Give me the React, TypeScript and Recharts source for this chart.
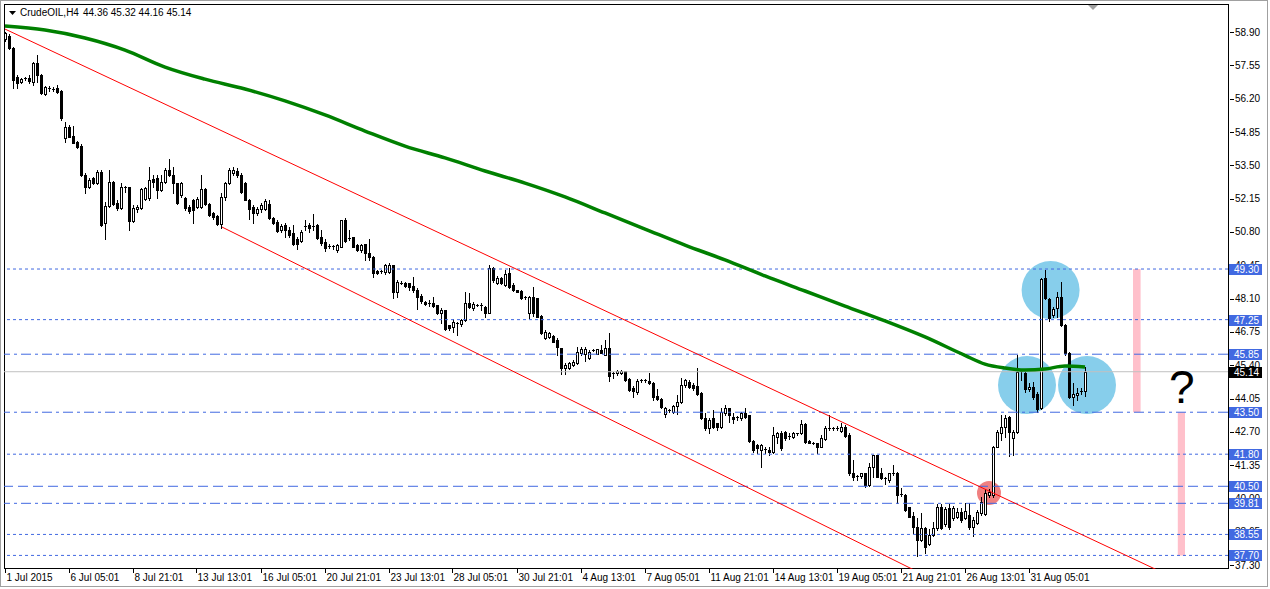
import {
  ComposedChart,
  Bar,
  Line,
  XAxis,
  YAxis,
  ReferenceLine,
  ReferenceDot,
  ReferenceArea,
} from "recharts";

// CrudeOIL H4 bars, one row per bar: open, high, low, close
const jul01 = [
  [58.6, 58.91, 58.55, 58.85], [58.74, 58.8, 58.2, 58.24], [58.24, 58.28, 56.62, 56.96], [57.09, 57.16, 56.62, 56.82],
  [56.86, 57.05, 56.82, 56.99], [57.0, 57.09, 56.96, 57.05], [57.02, 57.16, 56.82, 56.92], [56.89, 57.7, 56.75, 57.63],
  [57.66, 57.95, 56.89, 57.16], [57.16, 57.18, 56.39, 56.42], [56.4, 56.72, 56.36, 56.68], [56.62, 56.71, 56.52, 56.64],
  [56.6, 56.66, 56.52, 56.58], [56.62, 56.75, 56.42, 56.48], [56.52, 56.55, 55.35, 55.4], [54.59, 55.27, 54.46, 55.07],
];
const jul06 = [
  [55.07, 55.13, 54.63, 54.66], [54.69, 55.09, 54.4, 54.42], [54.46, 54.48, 54.22, 54.26], [54.28, 54.35, 53.08, 53.11],
  [53.11, 53.18, 52.37, 52.64], [52.64, 53.0, 52.6, 52.91], [53.0, 53.04, 52.73, 52.77], [52.77, 53.31, 52.73, 53.24],
  [53.24, 53.31, 51.05, 51.08], [51.15, 52.03, 50.5, 51.85], [51.85, 53.31, 51.83, 52.84], [52.84, 52.88, 51.89, 51.93],
  [51.96, 52.1, 51.69, 51.76], [51.76, 52.8, 51.72, 52.64], [52.62, 52.66, 52.43, 52.6], [52.61, 52.64, 50.88, 51.26],
];
const jul08 = [
  [51.26, 51.89, 51.22, 51.76], [51.72, 51.89, 51.62, 51.83], [51.76, 52.57, 51.72, 52.53], [52.14, 52.64, 52.1, 52.57],
  [52.16, 53.45, 52.1, 52.91], [52.93, 53.11, 52.64, 52.84], [52.97, 53.11, 52.16, 52.5], [52.5, 53.11, 52.47, 52.84],
  [52.84, 53.38, 52.8, 53.31], [53.31, 53.74, 53.07, 53.11], [53.11, 53.45, 52.37, 52.77], [52.77, 52.8, 51.93, 51.96],
  [52.3, 52.84, 52.23, 52.8], [52.16, 52.23, 51.69, 51.76], [51.8, 51.89, 51.56, 51.66], [52.1, 52.12, 51.18, 51.69],
];
const jul13 = [
  [51.83, 52.23, 51.76, 52.12], [51.83, 53.11, 51.76, 52.53], [52.53, 52.57, 51.89, 51.93], [51.93, 51.96, 51.45, 51.49],
  [51.56, 51.6, 51.31, 51.42], [51.45, 51.49, 51.08, 51.12], [51.12, 52.39, 50.95, 52.2], [52.2, 52.84, 52.1, 52.77],
  [52.77, 53.38, 52.74, 53.31], [53.18, 53.45, 53.11, 53.31], [53.28, 53.38, 53.04, 53.11], [53.11, 53.18, 52.39, 52.43],
  [52.8, 52.84, 52.08, 52.1], [52.1, 52.12, 51.31, 51.72], [51.8, 51.89, 51.18, 51.56], [51.56, 51.83, 51.49, 51.72],
];
const jul16 = [
  [51.72, 51.96, 51.62, 51.89], [51.74, 52.12, 51.69, 52.05], [51.93, 52.1, 51.31, 51.35], [51.35, 51.42, 51.12, 51.18],
  [51.22, 51.28, 50.81, 50.85], [50.88, 51.12, 50.81, 51.04], [51.08, 51.15, 50.61, 50.88], [50.88, 50.99, 50.61, 50.68],
  [50.74, 51.08, 50.27, 50.31], [50.5, 50.61, 50.1, 50.31], [50.45, 50.88, 50.41, 50.81], [51.02, 51.28, 50.88, 51.05],
  [51.08, 51.18, 50.81, 50.95], [51.02, 51.53, 50.88, 51.04], [51.1, 51.12, 50.5, 50.54], [50.58, 50.9, 50.28, 50.34],
];
const jul20 = [
  [50.41, 50.5, 50.05, 50.14], [50.2, 50.3, 50.15, 50.22], [50.22, 50.28, 50.12, 50.2], [50.07, 50.32, 49.98, 50.28],
  [50.21, 51.3, 50.18, 51.28], [51.3, 51.35, 50.4, 50.45], [50.5, 50.88, 50.48, 50.54], [50.58, 50.6, 50.18, 50.21],
  [50.28, 50.3, 50.02, 50.07], [50.07, 50.32, 50.0, 50.28], [50.3, 50.3, 49.67, 49.93], [49.93, 50.5, 49.67, 49.8],
  [49.8, 49.83, 48.99, 49.12], [49.23, 49.25, 49.1, 49.15], [49.2, 49.28, 49.15, 49.23], [49.19, 49.52, 49.1, 49.46],
];
const jul23 = [
  [49.19, 49.55, 49.15, 49.46], [49.46, 49.48, 48.11, 48.38], [48.38, 48.85, 48.18, 48.79], [48.72, 48.8, 48.68, 48.75],
  [48.75, 48.78, 48.58, 48.61], [48.72, 48.75, 48.45, 48.56], [48.61, 48.99, 48.38, 48.45], [48.45, 48.52, 47.67, 48.18],
  [48.2, 48.28, 47.91, 48.02], [47.98, 48.0, 47.85, 47.9], [47.9, 48.04, 47.8, 47.93], [47.94, 48.18, 47.77, 47.8],
  [47.84, 47.85, 47.47, 47.5], [47.5, 47.71, 47.13, 47.64], [47.64, 47.66, 46.83, 46.86], [47.03, 47.03, 46.83, 46.9],
];
const jul28 = [
  [46.94, 47.26, 46.76, 47.17], [47.1, 47.17, 46.63, 47.1], [47.06, 47.28, 47.0, 47.23], [47.23, 48.38, 47.2, 47.91],
  [47.94, 48.34, 47.74, 47.77], [47.71, 47.98, 47.64, 47.88], [47.84, 47.9, 47.8, 47.86], [47.86, 47.91, 47.64, 47.84],
  [47.77, 47.8, 47.37, 47.53], [47.53, 49.46, 47.5, 49.33], [49.33, 49.4, 48.79, 48.85], [48.75, 49.0, 48.7, 48.95],
  [48.95, 48.98, 48.7, 48.72], [48.65, 49.26, 48.6, 49.1], [49.12, 49.33, 48.52, 48.58], [48.65, 48.72, 48.42, 48.45],
];
const jul30 = [
  [48.45, 48.45, 48.35, 48.38], [48.42, 48.45, 48.07, 48.11], [48.18, 48.2, 48.08, 48.11], [47.5, 48.2, 47.3, 48.18],
  [48.18, 48.56, 47.4, 47.5], [48.11, 48.12, 47.35, 47.37], [47.4, 47.42, 46.65, 46.69], [46.49, 46.83, 46.45, 46.76],
  [46.56, 46.76, 46.52, 46.72], [46.6, 46.63, 46.33, 46.36], [46.42, 46.49, 45.82, 46.15], [46.09, 46.1, 45.05, 45.28],
  [45.28, 45.48, 45.05, 45.41], [45.3, 45.52, 45.25, 45.48], [45.41, 45.6, 45.38, 45.55], [45.48, 46.15, 45.45, 45.95],
];
const aug04 = [
  [45.88, 46.15, 45.82, 46.05], [45.84, 46.15, 45.59, 46.05], [45.68, 46.02, 45.66, 45.95], [46.0, 46.06, 45.98, 46.02],
  [45.86, 46.08, 45.84, 46.05], [46.02, 46.22, 45.88, 45.9], [45.82, 46.43, 45.8, 46.09], [46.09, 46.7, 44.78, 44.97],
  [45.05, 45.14, 44.88, 45.07], [45.07, 45.2, 45.0, 45.17], [45.1, 45.2, 45.05, 45.17], [45.15, 45.18, 44.78, 44.81],
  [44.85, 44.87, 44.37, 44.4], [44.47, 44.56, 44.13, 44.37], [44.33, 44.83, 44.24, 44.78], [44.78, 44.85, 44.74, 44.8],
];
const aug07 = [
  [44.8, 44.85, 44.74, 44.78], [44.78, 45.1, 44.64, 44.67], [44.7, 44.71, 43.99, 44.13], [44.16, 44.43, 43.99, 44.02],
  [44.02, 44.06, 43.66, 43.7], [43.43, 43.7, 43.29, 43.66], [43.56, 43.62, 43.5, 43.58], [43.52, 43.79, 43.48, 43.75],
  [43.75, 44.2, 43.43, 43.93], [43.93, 44.87, 43.89, 44.6], [44.6, 44.83, 44.53, 44.81], [44.74, 44.81, 44.47, 44.51],
  [44.6, 44.67, 44.4, 44.47], [44.56, 45.28, 44.2, 44.24], [44.29, 44.3, 43.21, 43.25], [43.25, 43.45, 42.78, 42.85],
];
const aug11 = [
  [42.85, 43.25, 42.64, 43.18], [43.25, 43.59, 42.85, 42.89], [43.05, 43.08, 42.78, 42.92], [42.92, 43.66, 42.85, 43.52],
  [43.48, 43.79, 43.39, 43.66], [43.66, 43.68, 43.12, 43.39], [43.32, 43.45, 43.08, 43.21], [43.25, 43.35, 43.2, 43.32],
  [43.25, 43.52, 43.18, 43.45], [43.45, 43.66, 43.25, 43.32], [43.39, 43.4, 42.31, 42.35], [42.35, 42.38, 41.9, 41.99],
  [42.17, 42.21, 41.86, 42.04], [41.99, 42.21, 41.3, 42.17], [42.0, 42.11, 41.83, 41.99], [41.99, 42.11, 41.77, 41.9],
];
const aug14 = [
  [41.9, 42.92, 41.86, 42.58], [42.51, 42.71, 42.24, 42.67], [42.67, 42.75, 41.99, 42.04], [42.71, 42.75, 42.38, 42.44],
  [42.54, 42.64, 42.4, 42.54], [42.51, 42.71, 42.44, 42.64], [42.61, 42.67, 42.58, 42.64], [42.64, 43.18, 42.62, 43.02],
  [43.02, 43.08, 42.27, 42.31], [42.35, 42.38, 42.24, 42.27], [42.27, 42.3, 42.22, 42.26], [42.24, 42.27, 41.86, 42.11],
  [42.11, 42.58, 42.08, 42.44], [42.4, 42.94, 42.38, 42.85], [42.85, 43.39, 42.78, 42.86], [42.86, 42.9, 42.8, 42.85],
];
const aug19 = [
  [42.85, 42.94, 42.78, 42.86], [42.75, 43.08, 42.71, 42.92], [42.92, 42.98, 42.51, 42.54], [42.58, 42.64, 40.96, 41.03],
  [41.03, 41.56, 40.75, 40.89], [40.89, 40.96, 40.75, 40.9], [40.92, 41.05, 40.82, 41.03], [41.03, 41.05, 40.48, 40.55],
  [40.55, 41.46, 40.51, 41.3], [41.3, 41.78, 40.89, 41.77], [41.77, 41.78, 40.86, 40.89], [41.05, 41.23, 40.78, 40.82],
  [40.85, 40.89, 40.59, 40.78], [40.75, 41.05, 40.69, 41.03], [41.05, 41.36, 40.96, 41.0], [41.05, 41.06, 39.81, 40.15],
];
const aug21 = [
  [40.19, 40.42, 40.11, 40.18], [40.15, 40.19, 39.51, 39.54], [39.65, 39.67, 39.24, 39.27], [39.3, 39.47, 38.62, 38.87],
  [38.84, 39.2, 37.68, 38.32], [38.32, 39.43, 38.3, 38.8], [38.8, 38.87, 37.78, 38.03], [38.16, 38.76, 38.12, 38.53],
  [38.53, 39.07, 38.49, 38.8], [38.8, 39.78, 38.73, 39.67], [39.65, 39.78, 38.76, 38.8], [38.97, 39.65, 38.9, 39.57],
  [39.61, 39.78, 38.76, 38.86], [39.2, 39.7, 39.14, 39.61], [39.27, 39.61, 39.2, 39.47], [39.47, 39.61, 39.07, 39.14],
];
const aug26 = [
  [39.2, 39.81, 39.16, 39.51], [39.34, 39.81, 38.76, 38.86], [38.84, 39.27, 38.49, 39.14], [39.0, 39.54, 38.97, 39.47],
  [39.4, 40.08, 39.34, 39.88], [39.38, 40.38, 39.34, 40.24], [40.15, 40.38, 40.08, 40.28], [40.15, 42.13, 40.08, 42.11],
  [42.11, 42.78, 42.08, 42.71], [42.64, 43.39, 42.37, 42.91], [42.91, 43.39, 42.51, 43.25], [43.29, 43.35, 41.73, 42.71],
  [42.44, 42.78, 41.77, 42.71], [42.71, 45.82, 42.67, 45.14], [45.14, 45.24, 44.81, 45.18], [45.07, 45.14, 44.33, 44.43],
];
const aug31 = [
  [44.43, 44.67, 44.37, 44.51], [44.51, 44.74, 44.02, 44.13], [44.24, 44.33, 43.52, 43.62], [43.66, 48.92, 43.62, 48.88],
  [48.92, 49.26, 48.07, 48.11], [48.07, 48.11, 47.21, 47.3], [47.44, 47.78, 47.37, 47.67], [47.71, 48.38, 47.37, 48.18],
  [48.18, 48.79, 46.99, 47.03], [47.03, 47.07, 45.82, 45.89], [45.89, 45.92, 44.06, 44.13], [44.13, 44.67, 43.79, 44.24],
  [44.2, 44.47, 43.99, 44.29], [44.33, 44.47, 44.24, 44.36], [44.36, 45.32, 44.16, 45.14],
];

// moving average, read every few bars
const maBars = [0, 10, 20, 30, 40, 50, 60, 70, 80, 90, 100, 110, 120, 130, 140, 150, 160, 170, 180, 190, 200, 210, 220, 230, 240, 245, 250, 255, 260, 265, 270];
const maValues = [59.14, 58.98, 58.66, 58.17, 57.48, 56.99, 56.59, 56.11, 55.54, 54.89, 54.28, 53.8, 53.27, 52.78, 52.22, 51.57, 50.92, 50.27, 49.67, 49.02, 48.41, 47.8, 47.2, 46.55, 45.8, 45.45, 45.29, 45.21, 45.25, 45.37, 45.33];

const timeTicks = [0, 16, 32, 48, 64, 80, 96, 112, 128, 144, 160, 176, 192, 208, 224, 240, 256];
const timeLabels = [
  "1 Jul 2015", "6 Jul 05:01", "8 Jul 21:01", "13 Jul 13:01", "16 Jul 05:01", "20 Jul 21:01",
  "23 Jul 13:01", "28 Jul 05:01", "30 Jul 21:01", "4 Aug 13:01", "7 Aug 05:01", "11 Aug 21:01",
  "14 Aug 13:01", "19 Aug 05:01", "21 Aug 21:01", "26 Aug 13:01", "31 Aug 05:01",
];
const priceTicks = [58.9, 57.55, 56.2, 54.85, 53.5, 52.15, 50.8, 49.45, 48.1, 46.75, 45.4, 44.05, 42.7, 41.35, 40.0, 38.65, 37.3];

const dotLevels = [49.3, 47.25, 41.8, 38.55, 37.7];
const dashDotLevels = [45.85, 43.5, 39.81];
const dashLevels = [40.5];
const lastPrice = 45.14;
const levels = [...dotLevels, ...dashDotLevels, ...dashLevels];

const symbol = "CrudeOIL,H4";
const quote = [44.36, 45.32, 44.16, 45.14];

const upperChannel = [{ x: 0, y: 59.02 }, { x: 300, y: 36.2 }];
const lowerChannel = [{ x: 54.25, y: 51.0 }, { x: 300, y: 31.27 }];
const blueCircles = [[261.4, 48.45], [255.5, 44.6], [270.5, 44.6]];
const breakout = [246, 40.23];
const targets = [[282, 283.9, 43.5, 49.3], [293.2, 295, 37.7, 43.5]];
const question = [294.2, 44.56];

const candles = [
  ...jul01, ...jul06, ...jul08, ...jul13, ...jul16, ...jul20, ...jul23, ...jul28, ...jul30,
  ...aug04, ...aug07, ...aug11, ...aug14, ...aug19, ...aug21, ...aug26, ...aug31,
];

const rows: any[] = candles.map((k, i) => ({ i, o: k[0], h: k[1], l: k[2], c: k[3] }));
maBars.forEach((b, n) => {
  rows[b].ma = maValues[n];
});

// tags go last so they are painted over the plain price labels
const axisTicks = [...priceTicks, ...levels, lastPrice];

const FONT = "'Liberation Sans', Arial, sans-serif";
const BLUE = "#4169E1";

function Candle(props: any) {
  const { x, y, width, height, payload } = props;
  if (!payload || height == null) return null;
  const { o, h, l, c } = payload;
  const k = height / (h - l);
  const at = (v: number) => y + (h - v) * k;
  const mid = Math.round(x + width / 2);
  const left = mid - 1;
  const top = Math.round(at(Math.max(o, c)));
  const bot = Math.round(at(Math.min(o, c)));
  const hi = Math.round(at(h));
  const lo = Math.round(at(l));
  let body;
  if (bot - top < 2) {
    body = <line x1={left} x2={left + 3} y1={top + 0.5} y2={top + 0.5} stroke="#000" />;
  } else if (c >= o) {
    body = <rect x={left + 0.5} y={top + 0.5} width={2} height={bot - top} fill="#fff" stroke="#000" />;
  } else {
    body = <rect x={left} y={top} width={3} height={bot - top + 1} fill="#000" />;
  }
  return (
    <g>
      <line x1={mid + 0.5} x2={mid + 0.5} y1={hi} y2={lo + 1} stroke="#000" />
      {body}
    </g>
  );
}

function TimeTick(props: any) {
  const { x, y, payload } = props;
  const label = timeLabels[timeTicks.indexOf(payload.value)];
  const px = Math.floor(x) + 0.5;
  return (
    <g>
      <line x1={px} x2={px} y1={y} y2={y + 4} stroke="#000" />
      <text x={px + 1} y={y + 11.5} fontSize={10} fontFamily={FONT} fill="#000">
        {label}
      </text>
    </g>
  );
}

function PriceTick(props: any) {
  const { x, y, payload } = props;
  const v = Number(payload.value);
  if (v === lastPrice || levels.includes(v)) {
    const bg = v === lastPrice ? "#000" : BLUE;
    return (
      <g>
        <rect x={x + 1} y={Math.round(y) - 5} width={33} height={11} fill={bg} />
        <text x={x + 6} y={y + 4} fontSize={10} fontFamily={FONT} fill="#fff">
          {v.toFixed(2)}
        </text>
      </g>
    );
  }
  const py = Math.round(y) + 0.5;
  return (
    <g>
      <line x1={x + 2} x2={x + 6} y1={py} y2={py} stroke="#000" />
      <text x={x + 7} y={y + 3.5} fontSize={10} fontFamily={FONT} fill="#000">
        {v.toFixed(2)}
      </text>
    </g>
  );
}

export default function App() {
  return (
    <div style={{ position: "absolute", left: 0, top: 0, width: 1270, height: 589, background: "#fff" }}>
      <ComposedChart
        width={1270}
        height={589}
        data={rows}
        margin={{ top: 5, right: 0, bottom: 0, left: 4 }}
        style={{ fontFamily: FONT }}
      >
        <XAxis
          type="number"
          dataKey="i"
          domain={[-0.25, 305.75]}
          allowDataOverflow
          ticks={timeTicks}
          interval={0}
          tick={<TimeTick />}
          tickLine={false}
          axisLine={false}
          tickSize={0}
          tickMargin={0}
          height={20}
        />
        <YAxis
          orientation="right"
          type="number"
          domain={[37.15, 59.994]}
          allowDataOverflow
          ticks={axisTicks}
          interval={0}
          tick={<PriceTick />}
          tickLine={false}
          axisLine={false}
          tickSize={0}
          tickMargin={0}
          width={42}
        />

        {blueCircles.map(([cx, cy], n) => (
          <ReferenceDot key={"c" + n} x={cx} y={cy} r={29} fill="#87CEEB" stroke="none" zIndex={50} />
        ))}
        <ReferenceDot x={breakout[0]} y={breakout[1]} r={12} fill="#F08080" stroke="none" zIndex={50} />
        {targets.map(([x1, x2, y1, y2], n) => (
          <ReferenceArea
            key={"t" + n}
            x1={x1}
            x2={x2}
            y1={y1}
            y2={y2}
            fill="#FFC0CB"
            fillOpacity={1}
            stroke="none"
            zIndex={50}
          />
        ))}

        <Bar
          dataKey={(d: any) => [d.l, d.h]}
          barSize={3}
          isAnimationActive={false}
          shape={(p: any) => <Candle {...p} />}
        />

        <ReferenceLine y={lastPrice} stroke="#C0C0C0" />
        {dotLevels.map((v) => (
          <ReferenceLine key={"d" + v} y={v} stroke={BLUE} strokeDasharray="3 3" />
        ))}
        {dashDotLevels.map((v) => (
          <ReferenceLine key={"dd" + v} y={v} stroke={BLUE} strokeDasharray="10 4 3 4" />
        ))}
        {dashLevels.map((v) => (
          <ReferenceLine key={"ds" + v} y={v} stroke={BLUE} strokeDasharray="10 5" />
        ))}

        <ReferenceLine segment={upperChannel} stroke="#FF0000" ifOverflow="hidden" />
        <ReferenceLine segment={lowerChannel} stroke="#FF0000" ifOverflow="hidden" />

        <Line
          dataKey="ma"
          type="monotone"
          connectNulls
          dot={false}
          stroke="#008000"
          strokeWidth={3.5}
          isAnimationActive={false}
        />

        <ReferenceDot
          x={question[0]}
          y={question[1]}
          r={1}
          fill="none"
          stroke="none"
          label={(p: any) => (
            <text
              x={p.viewBox.x + p.viewBox.width / 2}
              y={p.viewBox.y + p.viewBox.height / 2 + 17}
              textAnchor="middle"
              fontSize={46}
              fontFamily={FONT}
              fill="#000"
            >
              ?
            </text>
          )}
        />

        <rect x={0.5} y={0.5} width={1267} height={586} fill="none" stroke="#A0A0A0" />
        <rect x={4.5} y={4.5} width={1224} height={564} fill="none" stroke="#000" />
        <polygon points="1088,5 1098,5 1093,10" fill="#A0A0A0" />
        <polygon points="9,11 16,11 12.5,15" fill="#000" />
        <text x={20} y={16} fontSize={10} fontFamily={FONT} fill="#000">
          {symbol}
        </text>
        <text x={83} y={16} fontSize={10} fontFamily={FONT} fill="#000">
          {quote.map((q) => q.toFixed(2)).join(" ")}
        </text>
      </ComposedChart>
    </div>
  );
}
